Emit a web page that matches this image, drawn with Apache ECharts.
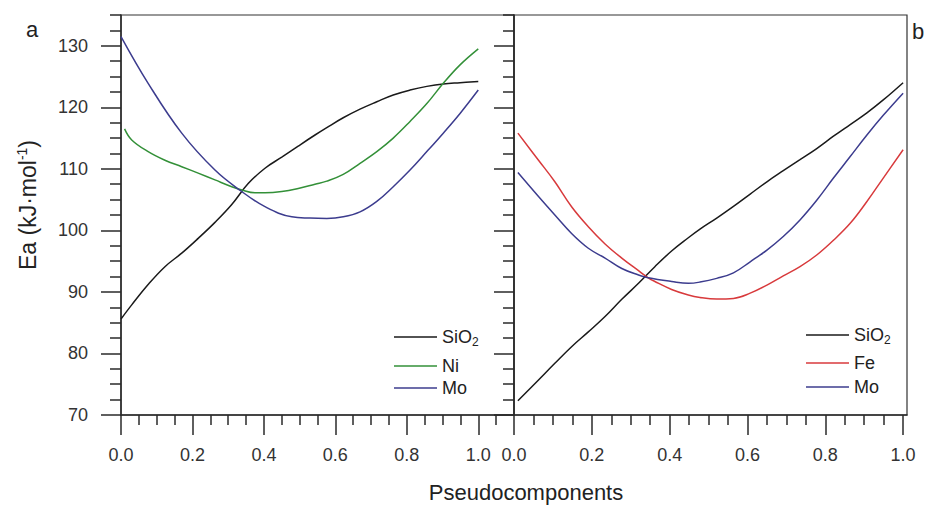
<!DOCTYPE html>
<html><head><meta charset="utf-8">
<script src="https://cdn.jsdelivr.net/npm/echarts@6/dist/echarts.min.js"></script>
<style>html,body{margin:0;padding:0;background:#fff}#c{width:933px;height:506px}</style>
</head><body><div id="c"></div>
<script>
// ---- tick values ----
const xTicksMajor = [0, 0.2, 0.4, 0.6, 0.8, 1.0];
const xTicksMinorA = [0.05, 0.1, 0.15, 0.25, 0.3, 0.35, 0.45, 0.5, 0.55, 0.65, 0.7, 0.75, 0.85, 0.9, 0.95, 1.05];
const xTicksMinorB = [0.05, 0.1, 0.15, 0.25, 0.3, 0.35, 0.45, 0.5, 0.55, 0.65, 0.7, 0.75, 0.85, 0.9, 0.95];
const yTicksMajor = [70, 80, 90, 100, 110, 120, 130];
const yTicksMinor = [72.5, 75, 77.5, 82.5, 85, 87.5, 92.5, 95, 97.5, 102.5, 105, 107.5, 112.5, 115, 117.5, 122.5, 125, 127.5, 132.5, 135];

// ---- panel a ----
const aSiO2X = [0, 0.03, 0.076, 0.123, 0.17, 0.216, 0.263, 0.31, 0.356, 0.403, 0.45, 0.496, 0.543, 0.576, 0.622, 0.669, 0.716, 0.762, 0.809, 0.856, 0.902, 0.949, 1.0];
const aSiO2Y = [85.6, 87.9, 91.2, 94.1, 96.3, 98.7, 101.3, 104.2, 107.6, 110.1, 111.9, 113.7, 115.5, 116.7, 118.3, 119.7, 120.9, 122.0, 122.8, 123.4, 123.8, 124.0, 124.2];
const aNiX = [0.01, 0.03, 0.076, 0.123, 0.17, 0.216, 0.263, 0.31, 0.336, 0.375, 0.403, 0.45, 0.496, 0.543, 0.576, 0.622, 0.669, 0.716, 0.762, 0.809, 0.856, 0.902, 0.949, 1.0];
const aNiY = [116.5, 114.7, 112.8, 111.4, 110.35, 109.3, 108.2, 107.1, 106.6, 106.1, 106.1, 106.3, 106.8, 107.5, 108.0, 109.1, 110.9, 112.8, 115.0, 117.7, 120.6, 123.9, 126.9, 129.5];
const aMoX = [0, 0.076, 0.17, 0.263, 0.336, 0.403, 0.478, 0.529, 0.576, 0.622, 0.669, 0.716, 0.762, 0.809, 0.856, 0.902, 0.949, 1.0];
const aMoY = [131.5, 123.9, 115.8, 109.8, 106.4, 103.85, 102.2, 102.0, 101.95, 102.2, 103.0, 104.7, 107.1, 109.8, 112.8, 115.8, 119.0, 122.8];

// ---- panel b ----
const bSiO2X = [0.01, 0.063, 0.105, 0.148, 0.191, 0.234, 0.277, 0.32, 0.362, 0.405, 0.448, 0.478, 0.521, 0.564, 0.607, 0.65, 0.692, 0.735, 0.778, 0.821, 0.864, 0.907, 0.949, 1.0];
const bSiO2Y = [72.3, 75.7, 78.4, 81.1, 83.5, 86.0, 88.8, 91.4, 94.1, 96.65, 98.8, 100.2, 102.0, 103.9, 105.9, 107.9, 109.7, 111.5, 113.3, 115.3, 117.2, 119.1, 121.2, 124.0];
const bFeX = [0.01, 0.063, 0.105, 0.148, 0.191, 0.234, 0.277, 0.32, 0.345, 0.362, 0.405, 0.448, 0.478, 0.521, 0.564, 0.607, 0.65, 0.692, 0.735, 0.778, 0.821, 0.864, 0.907, 0.949, 1.0];
const bFeY = [115.8, 111.4, 107.9, 103.85, 100.6, 97.8, 95.5, 93.45, 92.3, 91.7, 90.4, 89.5, 89.1, 88.85, 88.95, 89.8, 91.1, 92.6, 94.1, 96.0, 98.4, 101.15, 104.7, 108.5, 113.1];
const bMoX = [0.01, 0.063, 0.105, 0.148, 0.191, 0.234, 0.277, 0.32, 0.345, 0.405, 0.448, 0.478, 0.521, 0.564, 0.607, 0.65, 0.692, 0.735, 0.778, 0.821, 0.864, 0.907, 0.949, 1.0];
const bMoY = [109.4, 105.5, 102.5, 99.5, 97.1, 95.5, 93.8, 92.75, 92.3, 91.7, 91.4, 91.6, 92.2, 93.1, 94.9, 96.8, 99.0, 101.7, 104.9, 108.5, 112.0, 115.5, 118.7, 122.3];

const legendLabels = {'SiO2 a': 'SiO2', 'Ni': 'Ni', 'Mo a': 'Mo', 'SiO2 b': 'SiO2', 'Fe': 'Fe', 'Mo b': 'Mo'};

const pairs = (xs, ys) => xs.map((x, i) => [x, ys[i]]);
const AX = '#2a2a2a';
const FONT = 'Liberation Sans, Arial, sans-serif';

function xAxisPair(grid, max, minor) {
  return [{
    type: 'value', gridIndex: grid, min: 0, max: max, position: 'bottom',
    axisLine: {show: true, onZero: false, lineStyle: {color: AX, width: 1.5}},
    axisTick: {show: true, customValues: xTicksMajor, length: 20, lineStyle: {color: AX, width: 1.5}},
    axisLabel: {show: true, customValues: xTicksMajor, formatter: v => v.toFixed(1), fontSize: 18, fontFamily: FONT, color: '#333', margin: 31},
    splitLine: {show: false}
  }, {
    type: 'value', gridIndex: grid, min: 0, max: max, position: 'bottom',
    axisLine: {show: false, onZero: false},
    axisTick: {show: true, customValues: minor, length: 10, lineStyle: {color: AX, width: 1.5}},
    axisLabel: {show: false},
    splitLine: {show: false}
  }];
}
function yAxisPair(grid, labels) {
  return [{
    type: 'value', gridIndex: grid, min: 70, max: 135, position: 'left',
    axisLine: {show: true, onZero: false, lineStyle: {color: AX, width: 1.5}},
    axisTick: {show: true, customValues: yTicksMajor, length: 20, lineStyle: {color: AX, width: 1.5}},
    axisLabel: {show: labels, customValues: yTicksMajor, fontSize: 18, fontFamily: FONT, color: '#333', margin: 33},
    splitLine: {show: false}
  }, {
    type: 'value', gridIndex: grid, min: 70, max: 135, position: 'left',
    axisLine: {show: false, onZero: false},
    axisTick: {show: true, customValues: yTicksMinor, length: 11, lineStyle: {color: AX, width: 1.5}},
    axisLabel: {show: false},
    splitLine: {show: false}
  }];
}
function line(name, xi, yi, xs, ys, color) {
  return {name: name, type: 'line', xAxisIndex: xi, yAxisIndex: yi, data: pairs(xs, ys),
    symbol: 'none', showSymbol: false, smooth: 0.4, lineStyle: {color: color, width: 1.5}, itemStyle: {color: color}, z: 3};
}
function legendItem(name, left, top) {
  return {data: [{name: name, icon: 'rect'}], left: left, top: top, orient: 'vertical', itemWidth: 43, itemHeight: 1.6,
    selectedMode: false, padding: 0,
    formatter: n => n.startsWith('SiO2') ? '{m|SiO}{s|2}' : '{m|' + legendLabels[n] + '}',
    textStyle: {fontSize: 18, fontFamily: FONT, color: '#222',
      rich: {m: {fontSize: 18, fontFamily: FONT, color: '#222', lineHeight: 22},
             s: {fontSize: 12, fontFamily: FONT, color: '#222', lineHeight: 6, verticalAlign: 'bottom'}}}};
}

const BLACK = '#1a1a1a', GREEN = '#339038', NAVY = '#3c3c8e', RED = '#d83a3c';

const option = {
  animation: false,
  backgroundColor: '#fff',
  grid: [
    {left: 121, top: 15, width: 393, height: 400, show: true, borderColor: '#333', borderWidth: 1.2, backgroundColor: 'transparent'},
    {left: 514, top: 15, width: 393, height: 400, show: true, borderColor: '#333', borderWidth: 1.2, backgroundColor: 'transparent'}
  ],
  xAxis: [...xAxisPair(0, 1.1, xTicksMinorA), ...xAxisPair(1, 1.01, xTicksMinorB)],
  yAxis: [...yAxisPair(0, true), ...yAxisPair(1, false)],
  legend: [
    legendItem('SiO2 a', 394, 328), legendItem('Ni', 394, 357), legendItem('Mo a', 394, 379),
    legendItem('SiO2 b', 806, 326), legendItem('Fe', 806, 354), legendItem('Mo b', 806, 378)
  ],
  series: [
    line('SiO2 a', 0, 0, aSiO2X, aSiO2Y, BLACK),
    line('Ni', 0, 0, aNiX, aNiY, GREEN),
    line('Mo a', 0, 0, aMoX, aMoY, NAVY),
    line('SiO2 b', 2, 2, bSiO2X, bSiO2Y, BLACK),
    line('Fe', 2, 2, bFeX, bFeY, RED),
    line('Mo b', 2, 2, bMoX, bMoY, NAVY)
  ],
  graphic: [
    {type: 'text', x: 28, y: 205, rotation: Math.PI / 2,
      style: {text: '{t|Ea (kJ·mol}{p|-1}{t|)}', align: 'center', verticalAlign: 'middle',
        rich: {t: {fontSize: 23, fontFamily: FONT, fill: '#222', lineHeight: 26},
               p: {fontSize: 14, fontFamily: FONT, fill: '#222', lineHeight: 26, verticalAlign: 'top'}}}},
    {type: 'text', x: 526, y: 492,
      style: {text: 'Pseudocomponents', font: '22px ' + FONT, fill: '#222', align: 'center', verticalAlign: 'middle'}},
    {type: 'text', x: 32, y: 29,
      style: {text: 'a', font: '22px ' + FONT, fill: '#222', align: 'center', verticalAlign: 'middle'}},
    {type: 'text', x: 918, y: 31,
      style: {text: 'b', font: '22px ' + FONT, fill: '#222', align: 'center', verticalAlign: 'middle'}}
  ]
};
const chart = echarts.init(document.getElementById('c'), null, {renderer: 'svg', width: 933, height: 506});
chart.setOption(option);
</script>
</body></html>
